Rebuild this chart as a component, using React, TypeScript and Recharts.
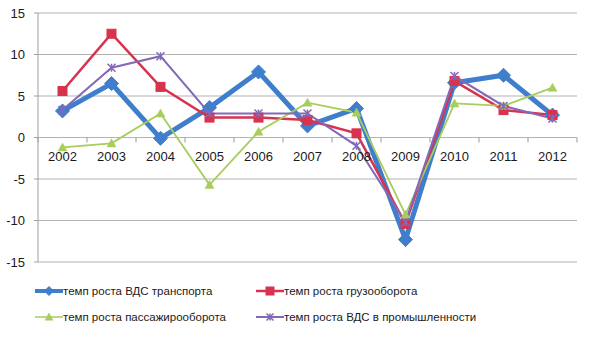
import React from "react";
import { LineChart, Line, XAxis, YAxis, CartesianGrid, Legend } from "recharts";

const years = ["2002", "2003", "2004", "2005", "2006", "2007", "2008", "2009", "2010", "2011", "2012"];
const transportGva = [3.2, 6.5, -0.1, 3.6, 7.9, 1.4, 3.5, -12.3, 6.6, 7.5, 2.7];
const freightTurnover = [5.6, 12.5, 6.1, 2.4, 2.4, 2.1, 0.5, -10.4, 6.8, 3.3, 2.7];
const passengerTurnover = [-1.2, -0.7, 2.9, -5.7, 0.7, 4.2, 3.0, -9.3, 4.1, 3.8, 6.0];
const industryGva = [3.3, 8.4, 9.8, 2.9, 2.9, 2.9, -1.0, -10.2, 7.4, 3.8, 2.3];
const yTicks = [-15, -10, -5, 0, 5, 10, 15];

const BLUE = "#3e7ecd";
const RED = "#d8334c";
const GREEN = "#a8cd5c";
const PURPLE = "#8468b9";
const FONT = "'Liberation Sans', Arial, sans-serif";

const PLOT_TOP = 13;
const PLOT_BOTTOM = 262;
const ZERO_Y = (PLOT_TOP + PLOT_BOTTOM) / 2;
const HALF_BAND = 24.5;

const data = years.map((year, i) => ({
  year,
  transport: transportGva[i],
  freight: freightTurnover[i],
  passenger: passengerTurnover[i],
  industry: industryGva[i],
}));

function Diamond({ cx, cy, r = 7, color }: any) {
  return (
    <path
      d={`M${cx},${cy - r} L${cx + r},${cy} L${cx},${cy + r} L${cx - r},${cy} Z`}
      fill={color}
      stroke={color}
      strokeWidth={1}
    />
  );
}

function Square({ cx, cy, r = 4.5, color }: any) {
  return <rect x={cx - r} y={cy - r} width={r * 2} height={r * 2} fill={color} stroke={color} />;
}

function Triangle({ cx, cy, r = 4.5, color }: any) {
  return (
    <path
      d={`M${cx},${cy - r} L${cx + r},${cy + r * 0.8} L${cx - r},${cy + r * 0.8} Z`}
      fill={color}
      stroke={color}
      strokeWidth={0.5}
    />
  );
}

function Star({ cx, cy, r = 4.5, color }: any) {
  return (
    <path
      d={`M${cx - r},${cy - r} L${cx + r},${cy + r} M${cx - r},${cy + r} L${cx + r},${cy - r} M${cx},${cy - r} L${cx},${cy + r}`}
      stroke={color}
      strokeWidth={1.5}
      fill="none"
    />
  );
}

function YearTick(props: any) {
  const { x, payload, index } = props;
  return (
    <g>
      <line x1={x - HALF_BAND} y1={ZERO_Y} x2={x - HALF_BAND} y2={ZERO_Y + 5} stroke="#999" />
      {index === years.length - 1 && (
        <line x1={x + HALF_BAND} y1={ZERO_Y} x2={x + HALF_BAND} y2={ZERO_Y + 5} stroke="#999" />
      )}
      <text x={x} y={ZERO_Y + 23} textAnchor="middle" fontSize={13} fill="#1a1a1a" fontFamily={FONT}>
        {payload.value}
      </text>
    </g>
  );
}

const legendItems = [
  { label: "темп роста ВДС транспорта", color: BLUE, width: 4, Marker: Diamond, r: 4.5, left: 35, top: 11 },
  { label: "темп роста грузооборота", color: RED, width: 2.5, Marker: Square, r: 4, left: 256, top: 11 },
  { label: "темп роста пассажирооборота", color: GREEN, width: 1.5, Marker: Triangle, r: 4, left: 35, top: 37 },
  { label: "темп роста ВДС в промышленности", color: PURPLE, width: 2, Marker: Star, r: 3.5, left: 256, top: 37 },
];

function LegendBox() {
  return (
    <div style={{ position: "relative", width: 601, height: 50, fontFamily: FONT }}>
      {legendItems.map((it) => (
        <div
          key={it.label}
          style={{ position: "absolute", left: it.left, top: it.top - 8, height: 16, display: "flex", alignItems: "center" }}
        >
          <svg width={28} height={16}>
            <line x1={0} y1={8} x2={28} y2={8} stroke={it.color} strokeWidth={it.width} />
            <it.Marker cx={14} cy={8} r={it.r} color={it.color} />
          </svg>
          <span style={{ fontSize: 11.5, color: "#1a1a1a", whiteSpace: "nowrap" }}>{it.label}</span>
        </div>
      ))}
    </div>
  );
}

export default function App() {
  return (
    <div style={{ position: "absolute", left: 0, top: 0, width: 601, height: 347, background: "#fff" }}>
      <LineChart width={601} height={347} data={data} margin={{ top: PLOT_TOP, right: 24, bottom: 55, left: 0 }}>
        <CartesianGrid vertical={false} stroke="#b3b3b3" />
        <XAxis
          dataKey="year"
          height={30}
          axisLine={false}
          tickLine={false}
          interval={0}
          padding={{ left: HALF_BAND, right: HALF_BAND }}
          tick={<YearTick />}
        />
        <YAxis
          width={38}
          domain={[-15, 15]}
          ticks={yTicks}
          interval={0}
          stroke="#a0a0a0"
          tickSize={4}
          tickMargin={9}
          tick={{ fontSize: 13, fill: "#1a1a1a", fontFamily: FONT }}
        />
        <Line
          dataKey="transport"
          type="linear"
          stroke={BLUE}
          strokeWidth={5}
          isAnimationActive={false}
          dot={(p: any) => <Diamond key={p.index} cx={p.cx} cy={p.cy} r={7} color={BLUE} />}
        />
        <Line
          dataKey="freight"
          type="linear"
          stroke={RED}
          strokeWidth={2.5}
          isAnimationActive={false}
          dot={(p: any) => <Square key={p.index} cx={p.cx} cy={p.cy} r={4.5} color={RED} />}
        />
        <Line
          dataKey="passenger"
          type="linear"
          stroke={GREEN}
          strokeWidth={1.8}
          isAnimationActive={false}
          dot={(p: any) => <Triangle key={p.index} cx={p.cx} cy={p.cy} r={4.5} color={GREEN} />}
        />
        <Line
          dataKey="industry"
          type="linear"
          stroke={PURPLE}
          strokeWidth={2}
          isAnimationActive={false}
          dot={(p: any) => <Star key={p.index} cx={p.cx} cy={p.cy} r={4} color={PURPLE} />}
        />
        <Legend
          layout="horizontal"
          verticalAlign="middle"
          align="center"
          wrapperStyle={{ top: 280, left: 0, width: 601, height: 50 }}
          content={() => <LegendBox />}
        />
      </LineChart>
    </div>
  );
}
